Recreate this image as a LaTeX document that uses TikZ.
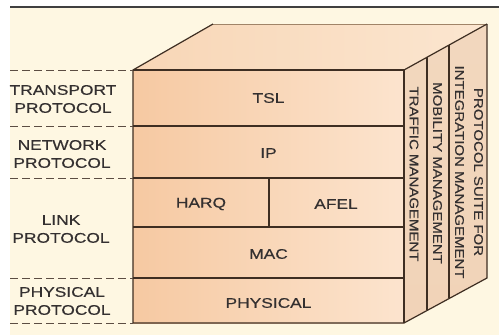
\documentclass[tikz,border=0pt]{standalone}
\usepackage{fontspec}
\setmainfont{Liberation Sans}
\newfontfamily\lblfont[FakeStretch=1.24,FakeBold=0.4]{Liberation Sans}
\newfontfamily\sidefont[FakeStretch=1.2,FakeBold=0.4]{Liberation Sans}
\definecolor{bgcream}{HTML}{FEF7E2}
\definecolor{frontL}{HTML}{F6C9A2}
\definecolor{frontR}{HTML}{FCE4CE}
\definecolor{topA}{HTML}{FBE6D0}
\definecolor{topB}{HTML}{F8D6B6}
\definecolor{sidecol}{HTML}{F0D4BA}
\definecolor{edgecol}{HTML}{3E2E22}
\definecolor{backedge}{HTML}{A08468}
\definecolor{txtcol}{HTML}{343030}
\tikzset{
  edge/.style={draw=edgecol, line width=1.2pt, line join=miter},
  dashline/.style={draw=edgecol!85, line width=1pt, dash pattern=on 8pt off 4pt},
  leftlbl/.style={text=txtcol, align=center, font=\lblfont\fontsize{14}{18}\selectfont, inner sep=0pt},
  layerlbl/.style={text=txtcol, align=center, font=\lblfont\fontsize{14}{18}\selectfont, inner sep=0pt},
  sidelbl/.style={text=txtcol, align=center, rotate=-90, font=\sidefont\fontsize{12.5}{19}\selectfont, inner sep=0pt}
}
\begin{document}
\begin{tikzpicture}[x=1pt,y=-1pt]
\useasboundingbox (0,0) rectangle (499,335);
\fill[white] (0,0) rectangle (499,335);
\fill[bgcream] (10,8) rectangle (499,335);
\draw[draw=black!75, line width=1.4pt] (10,7) -- (499,7);

% corners
\coordinate (FTL) at (133,70);
\coordinate (FTR) at (404,70);
\coordinate (FBL) at (133,323);
\coordinate (FBR) at (404,323);
\coordinate (BTL) at (213,24);
\coordinate (BTR) at (487,24);
\coordinate (BBR) at (487,278);

% faces
\shade[left color=topB, right color=topA] (FTL) -- (BTL) -- (BTR) -- (FTR) -- cycle;
\shade[top color=sidecol!80!topA, bottom color=sidecol!90!frontL] (FTR) -- (BTR) -- (BBR) -- (FBR) -- cycle;
\shade[left color=frontL, right color=frontR] (FTL) rectangle (FBR);

% back edge
\draw[draw=backedge, line width=1pt] (BTL) -- (BTR);
% outline
\draw[edge] (BTR) -- (BBR) -- (FBR) -- (FBL) -- (FTL) -- (BTL);
\draw[edge] (FTL) -- (FTR) -- (FBR);
\draw[edge] (FTR) -- (BTR);

% front layer dividers
\coordinate (L1a) at (133,126); \coordinate (L1b) at (404,126);
\coordinate (L2a) at (133,178); \coordinate (L2b) at (404,178);
\coordinate (L3a) at (133,227); \coordinate (L3b) at (404,227);
\coordinate (L4a) at (133,278); \coordinate (L4b) at (404,278);
\coordinate (V1) at (269,178); \coordinate (V2) at (269,227);
\draw[edge] (L1a) -- (L1b);
\draw[edge] (L2a) -- (L2b);
\draw[edge] (L3a) -- (L3b);
\draw[edge] (L4a) -- (L4b);
\draw[edge] (V1) -- (V2);

% side dividers
\coordinate (S1t) at (427,57.3); \coordinate (S1b) at (427,310.3);
\coordinate (S2t) at (449,45); \coordinate (S2b) at (449,298);
\draw[edge] (S1t) -- (S1b);
\draw[edge] (S2t) -- (S2b);

% left dashed lines
\coordinate (D0) at (10,70);
\coordinate (D1) at (10,126);
\coordinate (D2) at (10,178);
\coordinate (D3) at (10,278);
\coordinate (D4) at (10,323);
\draw[dashline] (D0) -- (FTL);
\draw[dashline] (D1) -- (L1a);
\draw[dashline] (D2) -- (L2a);
\draw[dashline] (D3) -- (L4a);
\draw[dashline] (D4) -- (FBL);

% left labels
\node[leftlbl] (transport) at (63,99) {TRANSPORT\\PROTOCOL};
\node[leftlbl] (network) at (62,154) {NETWORK\\PROTOCOL};
\node[leftlbl] (link) at (61,229) {LINK\\PROTOCOL};
\node[leftlbl] (physproto) at (62,301) {PHYSICAL\\PROTOCOL};

% layer labels
\node[layerlbl] (tsl) at (268.5,98) {TSL};
\node[layerlbl] (ip) at (268.5,153) {IP};
\node[layerlbl] (harq) at (201,204) {HARQ};
\node[layerlbl] (afel) at (336,204) {AFEL};
\node[layerlbl] (mac) at (268.5,254) {MAC};
\node[layerlbl] (phys) at (268.5,303) {PHYSICAL};

% side labels
\node[sidelbl] (traffic) at (414,174) {TRAFFIC MANAGEMENT};
\node[sidelbl] (mobility) at (437.5,173) {MOBILITY MANAGEMENT};
\node[sidelbl] (suite) at (469,172) {PROTOCOL SUITE FOR\\INTEGRATION MANAGEMENT};
\end{tikzpicture}
\end{document}
